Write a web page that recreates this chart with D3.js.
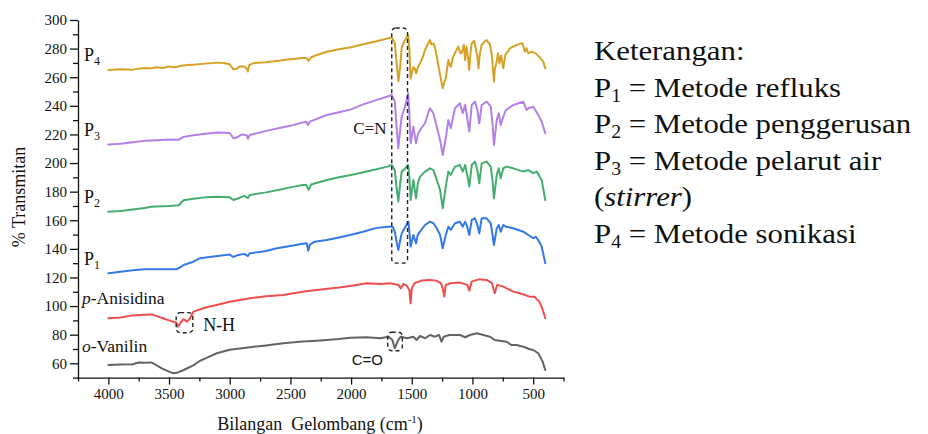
<!DOCTYPE html>
<html><head><meta charset="utf-8">
<script src="https://cdn.jsdelivr.net/npm/d3@7"></script>
<style>
html,body{margin:0;padding:0;background:#fff;}
svg{display:block;}
text{font-family:"Liberation Serif","Times New Roman",serif;fill:#111;}
</style></head>
<body>
<svg id="chart" width="928" height="434"></svg>
<script>
// ---------- DATA ----------
const yTickValues = [60,80,100,120,140,160,180,200,220,240,260,280,300];
const yMinorValues = [50,70,90,110,130,150,170,190,210,230,250,270,290];
const xTickValues = [4000,3500,3000,2500,2000,1500,1000,500];
const xMinorValues = [4250,3750,3250,2750,2250,1750,1250,750,250];

const seriesNames = ["P4","P3","P2","P1","p-Anisidina","o-Vanilin"];
const seriesColors = ["#D6A226","#B47FE6","#43AE70","#3479E6","#F04E4E","#636363"];

const dataP4 = [[4000,265],[3900,265.5],[3800,265.3],[3750,266],[3700,266.5],[3650,266.2],[3600,267],[3550,266.5],[3500,267.5],[3450,267],[3400,268],[3350,268.5],[3300,268.8],[3200,269.5],[3100,270.2],[3050,270],[3000,269],[2970,265.5],[2940,266],[2920,267.5],[2880,267.5],[2860,266],[2850,264],[2840,268.5],[2800,270],[2700,270.5],[2600,271.5],[2500,272.5],[2400,273.5],[2370,273.5],[2350,271.5],[2330,273.8],[2300,275],[2200,277.8],[2100,279.5],[2000,281],[1900,283],[1800,285],[1700,287],[1665,288],[1640,284],[1625,270],[1610,257],[1595,268],[1583,281],[1556,286],[1530,289.5],[1520,280],[1510,259],[1500,263],[1487,267],[1475,266],[1465,262.7],[1450,267],[1432,269.7],[1410,274],[1391,279],[1375,282],[1350,286],[1340,283],[1322,283.7],[1310,281],[1294,274.4],[1267,261.6],[1245,252.3],[1230,257],[1220,259.2],[1199,272],[1185,268],[1179,267.4],[1160,274],[1144,277],[1118,281.4],[1100,277],[1090,276.7],[1071,282.5],[1061,272],[1050,281.4],[1040,276],[1027,265],[1015,278],[1006,283.7],[986,285.5],[970,279],[960,274.4],[950,266.2],[940,276],[924,282.5],[900,285],[884,286],[857,283.2],[840,275],[823,256.9],[815,266],[803,269.7],[790,276.7],[778,269.7],[765,275],[760,273.2],[746,266.2],[730,275.5],[700,279],[692,280.2],[650,282],[637,282.5],[600,283.5],[588,283.7],[568,277.9],[555,280.2],[540,276.7],[512,277.9],[480,276.7],[450,274.4],[417,270.9],[400,266.2]];

const dataP3 = [[4000,213],[3900,213.5],[3800,214.5],[3700,215.5],[3600,216],[3500,216.5],[3420,216.3],[3380,218.3],[3300,219.5],[3200,220.5],[3100,221.3],[3000,221],[2970,217.3],[2940,218],[2900,220],[2860,219.5],[2850,217],[2835,219.6],[2700,222.5],[2600,224.3],[2500,226],[2400,228.3],[2370,228.9],[2355,226.5],[2340,229],[2200,233.6],[2100,235.5],[2000,237.5],[1900,241],[1800,243.8],[1700,246.5],[1665,247.6],[1640,243],[1625,225],[1611,210.3],[1595,224],[1583,232.4],[1556,239.4],[1530,248.7],[1520,235],[1509,213.8],[1487,225.4],[1465,213.8],[1450,220],[1432,223.1],[1391,227.8],[1360,236],[1350,238.3],[1322,234.8],[1294,225.4],[1267,216.1],[1245,205.6],[1220,217.3],[1199,230],[1179,224.3],[1144,238.3],[1103,241.8],[1080,234.8],[1061,240.6],[1043,231.3],[1026,221.9],[1006,240.6],[979,242.9],[960,237.1],[944,227.8],[924,240.6],[883,242.9],[850,239.4],[835,228],[823,212.6],[800,230],[784,234.8],[767,226.6],[746,232.4],[724,237.1],[664,240.6],[581,242.9],[555,237.1],[540,238.3],[499,239.4],[458,233.6],[430,229],[400,220.8]];

const dataP2 = [[4000,166],[3900,166.5],[3800,167.5],[3700,168.5],[3650,169.5],[3500,170],[3420,170.5],[3380,174],[3300,175],[3200,176],[3100,176.5],[3000,176],[2970,174.2],[2940,175],[2880,177],[2850,175.5],[2835,177.7],[2700,179.5],[2600,181.2],[2500,183],[2400,184.7],[2370,184.7],[2350,181.2],[2330,185],[2200,188.2],[2100,190],[2000,191.7],[1900,193.5],[1800,195.5],[1700,197.5],[1665,198.6],[1640,195],[1625,183],[1611,173],[1595,186],[1583,194],[1556,196],[1530,198.6],[1520,190],[1509,174.2],[1487,188.2],[1465,175.3],[1450,186],[1432,190.5],[1391,194],[1350,196.3],[1322,195.1],[1294,188.2],[1267,181.2],[1245,168.4],[1220,183.5],[1199,194],[1179,191.7],[1144,197.5],[1103,198.6],[1080,194],[1061,198.6],[1043,191.7],[1026,183.5],[1006,198.6],[979,201],[960,195.1],[944,185.9],[924,199.8],[883,201],[850,197.5],[835,188],[823,175.3],[800,191.7],[784,196.3],[767,189.3],[746,196.3],[724,197.5],[664,196.3],[581,194],[540,195.1],[499,192.9],[470,194],[430,188.2],[400,174]];

const dataP1 = [[4000,123],[3900,124],[3800,125],[3700,125.7],[3600,125.7],[3500,125.7],[3440,125.7],[3400,127.5],[3380,128.7],[3300,131],[3244,133.5],[3100,135],[3000,136],[2970,134.3],[2940,135.5],[2880,136.5],[2850,135],[2835,136.9],[2700,138.5],[2612,140.4],[2500,142],[2400,143.5],[2366,143.9],[2353,138.7],[2340,143],[2300,145],[2201,146.2],[2100,148],[2009,149.7],[1900,152],[1800,154.5],[1700,155.5],[1657,155.5],[1640,152],[1625,145],[1611,139.2],[1595,146],[1583,150.8],[1556,155],[1528,159],[1520,152],[1509,141.6],[1487,149.7],[1465,143.9],[1450,150],[1432,152],[1391,156.7],[1350,159],[1322,157.9],[1294,154.4],[1267,149.7],[1245,140.4],[1220,149.7],[1199,155.5],[1179,153.2],[1144,157.9],[1103,159],[1080,155.5],[1061,159],[1043,155.5],[1026,149.7],[1006,160.2],[979,161.4],[960,156.7],[944,150.8],[924,161.4],[883,161.4],[850,157.9],[835,150],[823,142.7],[800,154.4],[784,156.7],[767,152],[746,156.7],[724,155.5],[664,154.4],[581,152],[540,149.7],[499,147.4],[480,148.5],[458,146.2],[430,141.6],[400,129.9]];

const dataAnisidina = [[4000,91.5],[3900,92],[3800,93.5],[3700,94],[3640,94.2],[3600,93],[3550,91.5],[3500,90],[3440,88.4],[3425,85.6],[3400,89],[3382,90.8],[3370,90.3],[3354,89],[3330,91],[3299,96.1],[3200,99],[3107,100.8],[3000,103],[2832,105.5],[2700,106.8],[2558,107.8],[2400,110],[2283,111.3],[2100,113],[2009,114.1],[1871,115.9],[1761,115.5],[1679,116],[1611,114.8],[1590,112.4],[1570,115.5],[1540,114.1],[1520,111.3],[1510,101.9],[1500,112.4],[1478,116],[1420,117.8],[1350,118.3],[1300,117.8],[1260,116],[1245,112.4],[1232,106.6],[1220,114.8],[1180,116],[1103,116.4],[1043,114.8],[1026,110.8],[1006,117.1],[950,118.7],[883,118.3],[840,116],[816,109],[797,114.8],[746,113.6],[664,110.1],[610,109],[530,106.6],[490,106.6],[450,103.1],[425,98.5],[400,91.5]];

const dataVanilin = [[4000,58.8],[3900,59.1],[3800,59.3],[3750,60.5],[3700,60.4],[3650,60.6],[3620,59.5],[3560,56.5],[3500,54.2],[3464,53],[3420,53.8],[3380,55.3],[3300,58.5],[3244,61.8],[3200,63.5],[3107,67],[3000,69.5],[2832,71.2],[2700,72.5],[2558,74],[2400,75.2],[2283,75.8],[2100,77],[2009,77.9],[1871,78.2],[1761,77.5],[1690,78.6],[1660,76.3],[1640,70.5],[1611,76.3],[1590,78.6],[1540,77.5],[1487,78.6],[1460,76.3],[1432,79.1],[1391,77.5],[1350,79.8],[1310,78.6],[1275,79.8],[1255,75.1],[1237,78.6],[1190,79.8],[1103,79.8],[1060,78.2],[1020,79.8],[965,81],[910,79.8],[857,78.6],[816,76.3],[775,75.8],[720,75.1],[680,72.8],[637,72.8],[581,71.6],[527,69.8],[499,69.3],[458,67],[422,61.2],[400,55.3]];

const seriesData = [dataP4,dataP3,dataP2,dataP1,dataAnisidina,dataVanilin];

// annotation boxes in data units: [wnLeft, wnRight, valTop, valBottom]
const boxCN = [1665,1535,294.4,130];
const boxNH = [3441,3304,95.4,81.4];
const boxCO = [1698,1578,81.7,68.8];

// ---------- CHART ----------
const svg = d3.select("#chart");
const x = d3.scaleLinear().domain([4250,250]).range([78,563.5]);
const y = d3.scaleLinear().domain([50,300]).range([377.6,20]);
const fmt = d3.format("d");

// axes
const gy = svg.append("g").attr("transform",`translate(${x(4250)},0)`);
gy.call(d3.axisLeft(y).tickValues(yTickValues).tickFormat(fmt).tickSize(8).tickSizeOuter(0).tickPadding(3));
const gyMinor = svg.append("g").attr("transform",`translate(${x(4250)},0)`);
gyMinor.call(d3.axisLeft(y).tickValues(yMinorValues).tickSize(5).tickSizeOuter(0).tickFormat(""));
gyMinor.select(".domain").remove();

const gx = svg.append("g").attr("transform",`translate(0,${y(50)})`);
gx.call(d3.axisBottom(x).tickValues(xTickValues).tickFormat(fmt).tickSize(7).tickSizeOuter(0).tickPadding(4));
const gxMinor = svg.append("g").attr("transform",`translate(0,${y(50)})`);
gxMinor.call(d3.axisBottom(x).tickValues(xMinorValues).tickSize(4).tickSizeOuter(0).tickFormat(""));
gxMinor.select(".domain").remove();

svg.selectAll(".domain, .tick line").attr("stroke","#111").attr("stroke-width",1.3);
svg.selectAll(".tick text").attr("font-family","Liberation Serif, serif").attr("font-size",15).attr("fill","#111");

// spectra
const line = d3.line().x(d=>x(d[0])).y(d=>y(d[1]));
svg.append("g").selectAll("path").data(seriesData).join("path")
  .attr("d",line).attr("fill","none")
  .attr("stroke",(d,i)=>seriesColors[i]).attr("stroke-width",2)
  .attr("stroke-linejoin","round").attr("stroke-linecap","round");

// dashed boxes
function dashedBox(b){
  svg.append("rect")
    .attr("x",x(b[0])).attr("y",y(b[2]))
    .attr("width",x(b[1])-x(b[0])).attr("height",y(b[3])-y(b[2]))
    .attr("rx",4).attr("fill","none").attr("stroke","#222")
    .attr("stroke-width",1.4).attr("stroke-dasharray","4,3");
}
dashedBox(boxCN); dashedBox(boxNH); dashedBox(boxCO);

// annotation texts
svg.append("text").attr("x",x(1982)).attr("y",y(224.3)).attr("dy","0.35em")
  .attr("font-size",17).text("C=N");
svg.append("text").attr("x",x(3219)).attr("y",y(86.8)).attr("dy","0.35em")
  .attr("font-size",18).text("N-H");
svg.append("text").attr("x",x(1995)).attr("y",y(62.8)).attr("dy","0.35em")
  .attr("font-size",15).style("font-family","Liberation Sans, Arial, sans-serif").text("C=O");

// series labels
function pLabel(num, yb){
  const t = svg.append("text").attr("x",84).attr("y",yb).attr("font-size",18);
  t.append("tspan").text("P");
  t.append("tspan").attr("font-size",12).attr("dy",4).text(num);
}
pLabel("4",61); pLabel("3",136); pLabel("2",203); pLabel("1",265);
const ta = svg.append("text").attr("x",82).attr("y",304).attr("font-size",17.5);
ta.append("tspan").attr("font-style","italic").text("p");
ta.append("tspan").text("-Anisidina");
const tv = svg.append("text").attr("x",82).attr("y",352).attr("font-size",17.5);
tv.append("tspan").attr("font-style","italic").text("o");
tv.append("tspan").text("-Vanilin");

// axis titles
svg.append("text").attr("transform","translate(25,197) rotate(-90)")
  .attr("text-anchor","middle").attr("font-size",18).text("% Transmitan");
const xt = svg.append("text").attr("x",320).attr("y",430).attr("text-anchor","middle").attr("font-size",18);
xt.append("tspan").text("Bilangan");
xt.append("tspan").attr("dx",9).text("Gelombang (cm");
xt.append("tspan").attr("font-size",11).attr("dy",-7).text("-1");
xt.append("tspan").attr("dy",7).text(")");

// legend text
const legend = svg.append("g").attr("transform","translate(594,0) scale(1.1,1)");
const legendLines = [
  {sub:null, text:"Keterangan:"},
  {sub:"1", text:" = Metode refluks"},
  {sub:"2", text:" = Metode penggerusan"},
  {sub:"3", text:" = Metode pelarut air"},
  {sub:"italic", text:"stirrer"},
  {sub:"4", text:" = Metode sonikasi"}
];
legendLines.forEach((l,i)=>{
  const t = legend.append("text").attr("x",0).attr("y",60+i*36.6).attr("font-size",28);
  if(l.sub===null){ t.text(l.text); }
  else if(l.sub==="italic"){
    t.append("tspan").text("(");
    t.append("tspan").attr("font-style","italic").text(l.text);
    t.append("tspan").text(")");
  } else {
    t.append("tspan").text("P");
    t.append("tspan").attr("font-size",18).attr("dy",5).text(l.sub);
    t.append("tspan").attr("dy",-5).text(l.text);
  }
});
</script>
</body></html>
